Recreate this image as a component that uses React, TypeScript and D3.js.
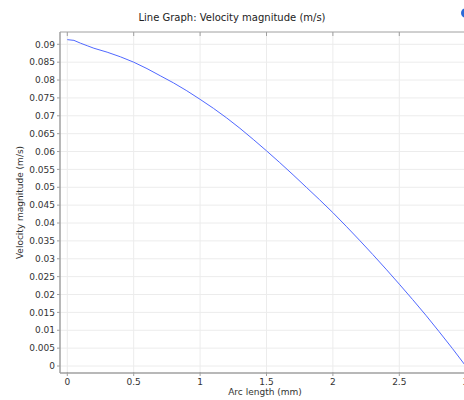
import React from "react";
import * as d3 from "d3";

const arcLength = [0, 0.05, 0.1, 0.15, 0.2, 0.3, 0.4, 0.5, 0.6, 0.7, 0.8, 0.9, 1.0, 1.1, 1.2, 1.3, 1.4, 1.5, 1.6, 1.7, 1.8, 1.9, 2.0, 2.1, 2.2, 2.3, 2.4, 2.5, 2.6, 2.7, 2.8, 2.9, 3.0];
const velocity = [0.0913, 0.0911, 0.0903, 0.0896, 0.0889, 0.0878, 0.0865, 0.085, 0.0832, 0.0812, 0.0792, 0.077, 0.0746, 0.0721, 0.0694, 0.0665, 0.0634, 0.0602, 0.0569, 0.0535, 0.05, 0.0465, 0.0429, 0.0391, 0.0352, 0.0312, 0.0271, 0.0229, 0.0186, 0.0142, 0.0096, 0.0049, 0.0];
const xTicks = [0, 0.5, 1, 1.5, 2, 2.5, 3];
const yTicks = [0, 0.005, 0.01, 0.015, 0.02, 0.025, 0.03, 0.035, 0.04, 0.045, 0.05, 0.055, 0.06, 0.065, 0.07, 0.075, 0.08, 0.085, 0.09];
const title = "Line Graph: Velocity magnitude (m/s)";
const xLabel = "Arc length (mm)";
const yLabel = "Velocity magnitude (m/s)";

export default function App() {
  const W = 464, H = 400;
  const left = 60, top = 32, bottom = 373, right = 472;
  const x = d3.scaleLinear().domain([0, 3]).range([67.3, 465.7]);
  const y = d3.scaleLinear().domain([0, 0.09]).range([366, 44.3]);
  const line = d3.line<number>().x((_, i) => x(arcLength[i])).y((d) => y(d));
  const font = "'DejaVu Sans', sans-serif";
  const axisColor = "#a0a0a0";
  return (
    <svg width={W} height={H} style={{ position: "absolute", left: 0, top: 0, background: "#fff" }}>
      <rect x={0} y={0} width={W} height={H} fill="#fff" />
      <text x={232} y={21} textAnchor="middle" fontFamily={font} fontSize={10} fill="#222">{title}</text>
      <circle cx={466} cy={13} r={5} fill="#2a6ad8" />
      {xTicks.map((t) => (
        <line key={"gx" + t} x1={x(t)} x2={x(t)} y1={top} y2={bottom} stroke="#ececec" strokeWidth={1} />
      ))}
      {yTicks.map((t) => (
        <line key={"gy" + t} x1={left} x2={right} y1={y(t)} y2={y(t)} stroke="#ececec" strokeWidth={1} />
      ))}
      <line x1={left} x2={right} y1={top} y2={top} stroke={axisColor} strokeWidth={1} />
      <line x1={left} x2={right} y1={bottom} y2={bottom} stroke={axisColor} strokeWidth={1.5} />
      <line x1={left} x2={left} y1={top} y2={bottom} stroke={axisColor} strokeWidth={1.5} />
      {xTicks.map((t) => (
        <g key={"tx" + t}>
          <line x1={x(t)} x2={x(t)} y1={top} y2={top + 4} stroke={axisColor} />
          <line x1={x(t)} x2={x(t)} y1={bottom - 1} y2={bottom + 3} stroke={axisColor} />
          <text x={x(t)} y={385} textAnchor="middle" fontFamily={font} fontSize={9} fill="#333">{String(t)}</text>
        </g>
      ))}
      {yTicks.map((t) => (
        <g key={"ty" + t}>
          <line x1={left - 3} x2={left} y1={y(t)} y2={y(t)} stroke={axisColor} />
          <text x={left - 5} y={y(t) + 3.2} textAnchor="end" fontFamily={font} fontSize={9} fill="#333">{String(t)}</text>
        </g>
      ))}
      <text x={265} y={395} textAnchor="middle" fontFamily={font} fontSize={9} fill="#333">{xLabel}</text>
      <text transform={`translate(23,${(top + bottom) / 2}) rotate(-90)`} textAnchor="middle" fontFamily={font} fontSize={9} fill="#333">{yLabel}</text>
      <path d={line(velocity) || ""} fill="none" stroke="#5068ff" strokeWidth={1} />
    </svg>
  );
}
